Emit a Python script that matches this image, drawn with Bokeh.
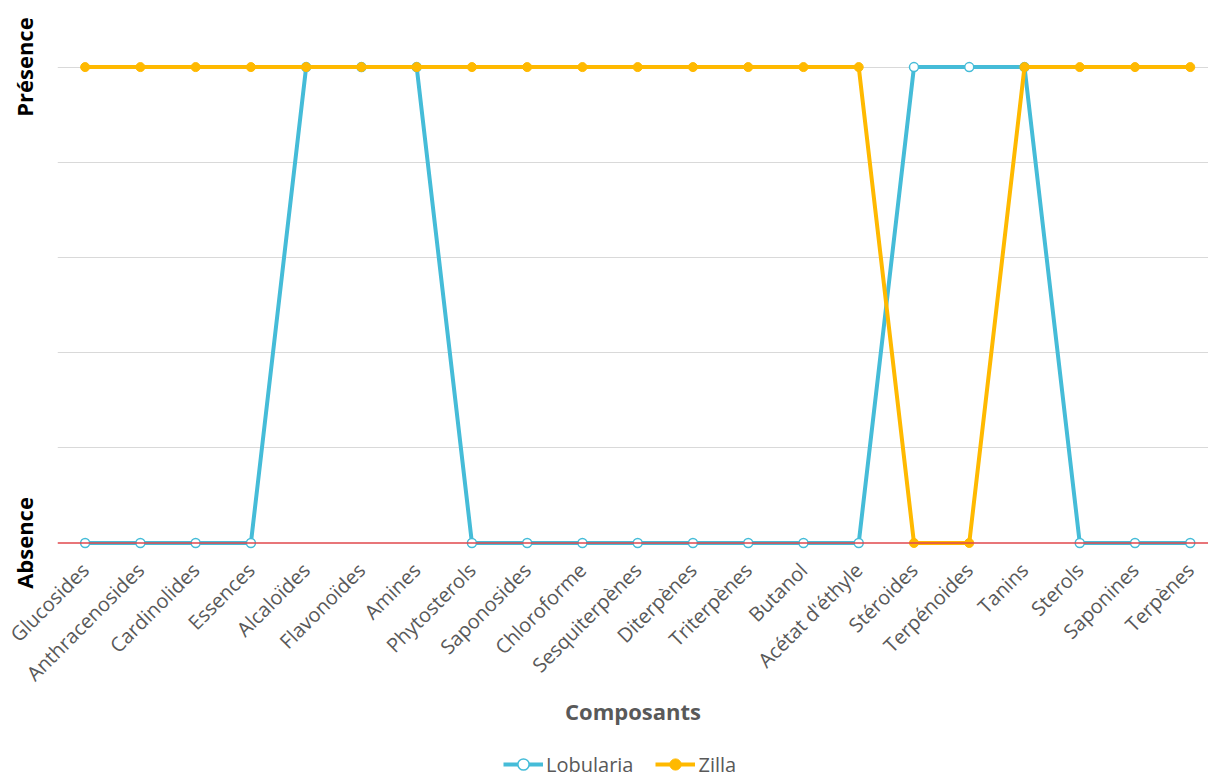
import math
from bokeh.plotting import figure
from bokeh.layouts import column
from bokeh.models import Range1d, FixedTicker, Span, Legend, LegendItem
from bokeh.embed import file_html
from bokeh.resources import INLINE

composants = ["Glucosides", "Anthracenosides", "Cardinolides", "Essences", "Alcaloïdes",
              "Flavonoïdes", "Amines", "Phytosterols", "Saponosides", "Chloroforme",
              "Sesquiterpènes", "Diterpènes", "Triterpènes", "Butanol", "Acétat d'éthyle",
              "Stéroides", "Terpénoides", "Tanins", "Sterols", "Saponines", "Terpènes"]
lobularia = [0, 0, 0, 0, 1, 1, 1, 0, 0, 0, 0, 0, 0, 0, 0, 1, 1, 1, 0, 0, 0]
zilla = [1, 1, 1, 1, 1, 1, 1, 1, 1, 1, 1, 1, 1, 1, 1, 0, 0, 1, 1, 1, 1]
y_labels = {0: "Absence", 1: "Présence"}

x = list(range(len(composants)))

FONT = "Open Sans"
BLUE = "#45BCD8"
ORANGE = "#FFB900"
GREY = "#595959"

p = figure(frame_width=1151, frame_height=533, output_backend="svg", toolbar_location=None,
           x_range=Range1d(-0.5, 20.33), y_range=Range1d(-0.02, 1.1),
           min_border_left=57, min_border_right=0, min_border_top=19, min_border_bottom=198)
p.outline_line_color = None
p.background_fill_color = "white"
p.border_fill_color = "white"

# x axis
p.xaxis.ticker = FixedTicker(ticks=x)
p.xaxis.major_label_overrides = {i: c for i, c in enumerate(composants)}
p.xaxis.major_label_orientation = math.pi / 4
p.xaxis.major_label_text_font = FONT
p.xaxis.major_label_text_font_size = "20px"
p.xaxis.major_label_text_color = GREY
p.xaxis.axis_line_color = None
p.xaxis.major_tick_line_color = None
p.xaxis.minor_tick_line_color = None
p.xaxis.major_label_standoff = 8
p.xaxis.axis_label = "Composants"
p.xaxis.axis_label_text_font = FONT
p.xaxis.axis_label_text_font_style = "bold"
p.xaxis.axis_label_text_font_size = "22px"
p.xaxis.axis_label_text_color = GREY
p.xaxis.axis_label_standoff = -3

# y axis
p.yaxis.ticker = FixedTicker(ticks=list(y_labels.keys()))
p.yaxis.major_label_overrides = y_labels
p.yaxis.major_label_orientation = "vertical"
p.yaxis.major_label_text_font = FONT
p.yaxis.major_label_text_font_style = "bold"
p.yaxis.major_label_text_font_size = "22px"
p.yaxis.major_label_text_color = "black"
p.yaxis.axis_line_color = None
p.yaxis.major_tick_line_color = None
p.yaxis.minor_tick_line_color = None
p.yaxis.major_label_standoff = 12

p.xgrid.grid_line_color = None
p.ygrid.ticker = FixedTicker(ticks=[0.2, 0.4, 0.6, 0.8, 1.0])
p.ygrid.grid_line_color = "#D9D9D9"
p.ygrid.grid_line_width = 1

p.add_layout(Span(location=0, dimension="width", line_color="#E0474C", line_width=1.5))

p.line(x, lobularia, line_color=BLUE, line_width=4)
p.scatter(x, lobularia, size=9, marker="circle", line_color=BLUE, line_width=1.5,
          fill_color="white")
p.line(x, zilla, line_color=ORANGE, line_width=4)
p.scatter(x, zilla, size=9, marker="circle", line_color=ORANGE, fill_color=ORANGE)

# legend strip: a small figure below the chart; its series lie outside its visible range,
# so only the legend shows
leg = figure(width=1208, height=28, output_backend="svg", toolbar_location=None,
             min_border=0, x_range=Range1d(0, 1), y_range=Range1d(100, 101))
leg.axis.visible = False
leg.grid.visible = False
leg.outline_line_color = None
ll1 = leg.line(x, lobularia, line_color=BLUE, line_width=4)
ls1 = leg.scatter(x, lobularia, size=8, marker="circle", line_color=BLUE, line_width=1.5,
                  fill_color="white")
ll2 = leg.line(x, zilla, line_color=ORANGE, line_width=4)
ls2 = leg.scatter(x, zilla, size=8, marker="circle", line_color=ORANGE, fill_color=ORANGE)
legend = Legend(items=[LegendItem(label="Lobularia", renderers=[ll1, ls1]),
                       LegendItem(label="Zilla", renderers=[ll2, ls2])],
                orientation="horizontal", location=(446, 0),
                label_text_font=FONT, label_text_font_size="20px",
                label_text_color=GREY, border_line_color=None,
                background_fill_alpha=0, glyph_width=40, label_standoff=3,
                spacing=22, padding=0, margin=0, label_height=28, glyph_height=28)
leg.add_layout(legend)

open("out.html", "w").write(file_html(column(p, leg, spacing=0), INLINE))
